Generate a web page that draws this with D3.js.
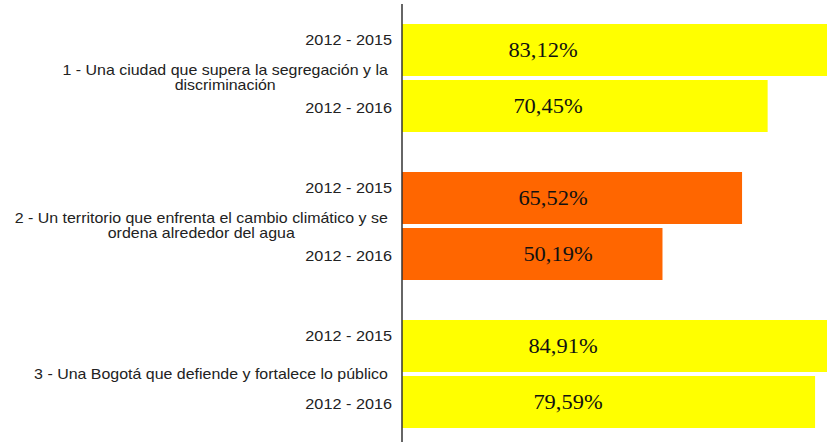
<!DOCTYPE html>
<html>
<head>
<meta charset="utf-8">
<script src="https://cdn.jsdelivr.net/npm/d3@7"></script>
<style>
  body { margin: 0; background: #fff; }
  svg { display: block; }
</style>
</head>
<body>
<div id="chart"></div>
<script>
// data
const categories = [
  "1 - Una ciudad que supera la segregación y la discriminación",
  "2 - Un territorio que enfrenta el cambio climático y se ordena alrededor del agua",
  "3 - Una Bogotá que defiende y fortalece lo público"
];
const periods = ["2012 - 2015", "2012 - 2016"];
const values2015 = [83.12, 65.52, 84.91];
const values2016 = [70.45, 50.19, 79.59];
const barColors = ["#FFFF00", "#FF6600", "#FFFF00"];

const w = 827, h = 442;
const x0 = 402;
const stretch = 1.16; // text in the original looks horizontally stretched
const catStretch = 1.14;

const svg = d3.select("#chart").append("svg")
  .attr("width", w).attr("height", h);

// flat rows
const rows = [];
categories.forEach((c, i) => {
  rows.push({cat: i, period: periods[0], v: values2015[i]});
  rows.push({cat: i, period: periods[1], v: values2016[i]});
});

const x = d3.scaleLinear().domain([0, 100]).range([x0, x0 + 519]);

const yGroup = d3.scaleBand()
  .domain(d3.range(categories.length))
  .range([24, 24 + 148 * 3 - 40])
  .paddingInner(40 / 148).paddingOuter(0);

const yBar = d3.scaleBand()
  .domain(periods)
  .range([0, yGroup.bandwidth()])
  .paddingInner(4 / 56).paddingOuter(0);

// label x drifts slightly in the original
const labelX = d3.scaleLinear().domain([0, rows.length - 1]).range([543, 568]);

const barY = d => yGroup(d.cat) + yBar(d.period);

const bars = svg.append("g");
bars.selectAll("rect")
  .data(rows)
  .join("rect")
  .attr("x", x(0))
  .attr("y", barY)
  .attr("width", d => x(d.v) - x(0))
  .attr("height", yBar.bandwidth())
  .attr("fill", d => barColors[d.cat]);

bars.selectAll("text")
  .data(rows)
  .join("text")
  .attr("transform", (d, i) => `translate(${labelX(i)},${barY(d) + yBar.bandwidth() / 2}) scale(1.07,1)`)
  .attr("dy", "0.35em")
  .attr("text-anchor", "middle")
  .attr("font-family", "'Liberation Serif', 'Times New Roman', serif")
  .attr("font-size", 21)
  .attr("fill", "#111")
  .text(d => d.v.toFixed(2).replace(".", ",") + "%");

// period labels
const labels = svg.append("g")
  .attr("font-family", "'Liberation Sans', Arial, sans-serif")
  .attr("font-size", 14)
  .attr("fill", "#222");

labels.selectAll("text.period")
  .data(rows)
  .join("text")
  .attr("class", "period")
  .attr("transform", d => `translate(392,${barY(d) + yBar.bandwidth() / 2 + (d.period === periods[0] ? -10 : 2)}) scale(${stretch},1)`)
  .attr("dy", "0.35em")
  .attr("text-anchor", "end")
  .text(d => d.period);

// category labels: wrapped, block right aligned, lines centered
const maxW = 395;
categories.forEach((c, i) => {
  const g = labels.append("g");
  const words = c.split(" ");
  const lines = [];
  let line = [];
  const probe = g.append("text");
  const len = s => { probe.text(s); return probe.node().getComputedTextLength() * catStretch; };
  words.forEach(wd => {
    line.push(wd);
    if (len(line.join(" ")) > maxW && line.length > 1) {
      line.pop();
      lines.push(line.join(" "));
      line = [wd];
    }
  });
  lines.push(line.join(" "));
  const widest = d3.max(lines, len);
  probe.remove();
  const cx = 388 - widest / 2;
  const cy = yGroup(i) + yGroup.bandwidth() / 2;
  const lh = 15;
  lines.forEach((l, j) => {
    g.append("text")
      .attr("transform", `translate(${cx},${cy + (j - (lines.length - 1) / 2) * lh}) scale(${catStretch},1)`)
      .attr("dy", "0.35em")
      .attr("text-anchor", "middle")
      .text(l);
  });
});

// axis line
svg.append("line")
  .attr("x1", x0).attr("x2", x0)
  .attr("y1", 4).attr("y2", h)
  .attr("stroke", "#333").attr("stroke-width", 1.5);
</script>
</body>
</html>
